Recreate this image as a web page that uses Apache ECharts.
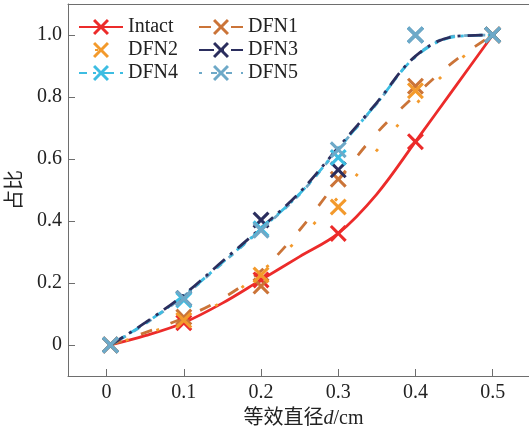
<!DOCTYPE html>
<html>
<head>
<meta charset="utf-8">
<script src="https://cdn.jsdelivr.net/npm/echarts@6/dist/echarts.min.js"></script>
<style>
  html, body { margin: 0; padding: 0; background: #fff; }
  #chart { width: 529px; height: 433px; }
</style>
</head>
<body>
<div id="chart"></div>
<script>
// Measured points (equivalent diameter d in cm vs. proportion)
const names = ['Intact', 'DFN1', 'DFN2', 'DFN3', 'DFN4', 'DFN5'];
const pointX = [0.005, 0.1, 0.2, 0.3, 0.4, 0.5];
const intactPts = [0, 0.072, 0.21, 0.36, 0.656, 1.0];
const dfn1Pts = [0, 0.09, 0.19, 0.535, 0.835, 1.0];
const dfn2Pts = [0, 0.08, 0.226, 0.445, 0.82, 1.0];
const dfn3Pts = [0, 0.15, 0.403, 0.565, 1.0, 1.0];
const dfn4Pts = [0, 0.145, 0.375, 0.605, 1.0, 1.0];
const dfn5Pts = [0, 0.15, 0.37, 0.63, 1.0, 1.0];

// Fitted curves sampled along d
const curveX = [0.005, 0.05, 0.1, 0.15, 0.2, 0.25, 0.3, 0.35, 0.4, 0.45, 0.5];
const intactFit = [0, 0.03, 0.072, 0.135, 0.21, 0.285, 0.36, 0.487, 0.656, 0.828, 1.0];
const dfn1Fit = [0, 0.04, 0.088, 0.15, 0.239, 0.371, 0.532, 0.684, 0.806, 0.915, 1.0];
const dfn2Fit = [0, 0.035, 0.08, 0.14, 0.237, 0.345, 0.477, 0.628, 0.775, 0.905, 1.0];
const dfn3Fit = [0, 0.072, 0.162, 0.27, 0.378, 0.492, 0.637, 0.782, 0.932, 0.995, 1.0];
const dfn4Fit = [0, 0.07, 0.16, 0.266, 0.374, 0.488, 0.633, 0.78, 0.93, 0.994, 1.0];
const dfn5Fit = [0, 0.068, 0.158, 0.264, 0.372, 0.486, 0.632, 0.779, 0.931, 0.996, 1.0];

// Tick values
const xTicks = [0, 0.1, 0.2, 0.3, 0.4, 0.5];
const yTicks = [0, 0.2, 0.4, 0.6, 0.8, 1.0];

const pointSets = [intactPts, dfn1Pts, dfn2Pts, dfn3Pts, dfn4Pts, dfn5Pts];
const fitSets = [intactFit, dfn1Fit, dfn2Fit, dfn3Fit, dfn4Fit, dfn5Fit];

const colors = ['#EC2B2A', '#CB7438', '#F39A2C', '#2B2E5E', '#3DBDE2', '#6EA9C8'];
const dashes = ['solid', [12, 20], [3, 29], [15, 7, 3, 7], [12, 6, 3, 6], [6, 9]];
const dashOffsets = [0, 0, -16, 0, 4, 3];
const lineZ = [2, 2, 2, 2.3, 2.2, 2.1];

// cross marker drawn as a filled outline
const crossPath = 'path://M0,1.3L1.3,0L5,3.7L8.7,0L10,1.3L6.3,5L10,8.7L8.7,10L5,6.3L1.3,10L0,8.7L3.7,5Z';

const serif = 'Liberation Serif';
const serifCJK = 'Liberation Serif, Noto Sans CJK SC';
const textBase = { fontFamily: serif, fontSize: 20, color: '#222' };

const series = [];
names.forEach((name, i) => {
  series.push({
    name: name,
    type: 'line',
    data: curveX.map((x, k) => [x, fitSets[i][k]]),
    smooth: 0.35,
    symbol: crossPath,
    showSymbol: false,
    lineStyle: { color: colors[i], width: 2.8, type: dashes[i], dashOffset: dashOffsets[i], cap: 'butt' },
    itemStyle: { color: colors[i] },
    emphasis: { disabled: true },
    silent: true,
    z: lineZ[i]
  });
  series.push({
    name: name,
    type: 'scatter',
    data: pointX.map((x, k) => [x, pointSets[i][k]]),
    symbol: crossPath,
    symbolSize: 17,
    itemStyle: { color: colors[i], opacity: 1 },
    emphasis: { disabled: true },
    silent: true,
    z: 3
  });
});

const legendBase = {
  orient: 'vertical',
  itemWidth: 44,
  itemHeight: 20,
  itemGap: 3,
  itemTextGap: 5,
  selectedMode: false,
  formatter: n => '{t|' + n + '}',
  textStyle: Object.assign({ rich: { t: Object.assign({}, textBase) } }, textBase),
  padding: 0
};

const axisGray = '#6e6e6e';

const chart = echarts.init(document.getElementById('chart'), null, { renderer: 'canvas' });
chart.setOption({
  backgroundColor: '#fff',
  animation: false,
  textStyle: { fontFamily: serif },
  color: colors,
  grid: {
    left: 68, top: 4, right: -10, bottom: 57,
    outerBoundsMode: 'none',
    containLabel: false
  },
  legend: [
    Object.assign({}, legendBase, { left: 78, top: 17, data: ['Intact', 'DFN2', 'DFN4'] }),
    Object.assign({}, legendBase, { left: 198, top: 17, data: ['DFN1', 'DFN3', 'DFN5'] })
  ],
  xAxis: [{
    type: 'value',
    min: -0.05,
    max: 0.56,
    splitLine: { show: false },
    axisLine: { show: true, onZero: false, lineStyle: { color: axisGray, width: 1 } },
    axisTick: { show: true, inside: true, length: 7, customValues: xTicks, lineStyle: { color: axisGray } },
    axisLabel: Object.assign({
      customValues: xTicks,
      margin: 7,
      formatter: v => (v === 0 ? '0' : v.toFixed(1))
    }, textBase),
    name: '等效直径{i|d}/cm',
    nameLocation: 'middle',
    nameGap: 33,
    nameTextStyle: {
      fontFamily: serifCJK, fontSize: 20, color: '#222',
      rich: { i: { fontFamily: serif, fontSize: 20, fontStyle: 'italic', color: '#222' } }
    }
  }, {
    // top frame line
    type: 'value',
    position: 'top',
    min: -0.05,
    max: 0.56,
    splitLine: { show: false },
    axisLine: { show: true, onZero: false, lineStyle: { color: axisGray, width: 1 } },
    axisTick: { show: false },
    axisLabel: { show: false }
  }],
  yAxis: {
    type: 'value',
    min: -0.1,
    max: 1.1,
    splitLine: { show: false },
    axisLine: { show: true, onZero: false, lineStyle: { color: axisGray, width: 1 } },
    axisTick: { show: true, inside: true, length: 7, customValues: yTicks, lineStyle: { color: axisGray } },
    axisLabel: Object.assign({
      customValues: yTicks,
      margin: 6,
      formatter: v => (v === 0 ? '0' : v.toFixed(1))
    }, textBase),
    name: '占比',
    nameLocation: 'middle',
    nameRotate: 90,
    nameGap: 36,
    nameTextStyle: { fontFamily: serifCJK, fontSize: 20, color: '#222' }
  },
  series: series
});
</script>
</body>
</html>
